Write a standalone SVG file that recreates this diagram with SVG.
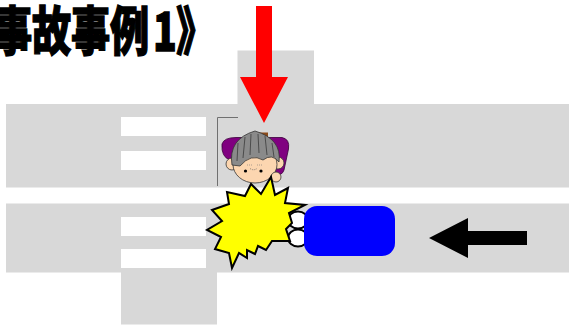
<svg xmlns="http://www.w3.org/2000/svg" width="569" height="329" viewBox="0 0 569 329">
<style>
.road{fill:#D8D8D8}
.stripe{fill:#FFFFFF}
.skin{fill:#FCD6B0;stroke:#333;stroke-width:0.8}
.title{font-family:"Noto Sans CJK JP","Noto Sans CJK SC",sans-serif;font-weight:900;font-size:53px;fill:#000;stroke:#000;stroke-width:1.3}
</style>
<rect width="569" height="329" fill="#FFFFFF"/>
<g id="roads">
<rect class="road" x="6" y="104" width="563" height="83.5"/>
<rect class="road" x="237.5" y="50.5" width="76.5" height="54"/>
<rect class="road" x="6" y="203.5" width="563" height="69"/>
<rect class="road" x="121" y="272" width="96" height="52.5"/>
</g>
<g id="crosswalks">
<rect class="stripe" x="121" y="117" width="85" height="19"/>
<rect class="stripe" x="121" y="151" width="85" height="19"/>
<rect class="stripe" x="121" y="217" width="85" height="19"/>
<rect class="stripe" x="121" y="249" width="85" height="19"/>
</g>
<path id="curb-line" d="M238,117.5 H217.5 V186" fill="none" stroke="#707070" stroke-width="1"/>
<g id="pedestrian">
<path d="M222,144 Q224,137.5 236,137.5 L282,137.5 Q290,139 288.5,149 L284,170 Q282,176 276,174 L271,160 L230,160 Q221,157 222,144 Z" fill="#800080" stroke="#3a003a" stroke-width="0.8"/>
<rect x="258" y="132.5" width="10" height="5" fill="#8B4A1A"/>
<circle class="skin" cx="232" cy="164" r="6"/>
<circle class="skin" cx="278" cy="163" r="6"/>
<ellipse class="skin" cx="255" cy="164.5" rx="22" ry="18.5"/>
<path d="M232,165 Q228,139 255,131 Q282,139 279,162 Q272,153 263,160 Q251,153 240,166 Z" fill="#8A8A8A" stroke="#333" stroke-width="0.8"/>
<g stroke="#444" stroke-width="0.9" fill="none">
<path d="M245,137 L243,158"/>
<path d="M251,134 L250,155"/>
<path d="M258,134 L259,153"/>
<path d="M265,136 L267,155"/>
<path d="M238,143 L237,161"/>
<path d="M272,143 L274,157"/>
</g>
<circle cx="245.5" cy="171" r="1.6" fill="#000"/>
<circle cx="261" cy="171" r="1.6" fill="#000"/>
<path d="M250,168.5 Q253.5,171 257,168.5" fill="none" stroke="#555" stroke-width="0.7" stroke-dasharray="1 1"/>
<path d="M247,165 H252 M257,165 H262" fill="none" stroke="#777" stroke-width="0.6" stroke-dasharray="1 1"/>
<circle class="skin" cx="276" cy="177" r="5"/>
</g>
<g id="vehicle">
<ellipse cx="298" cy="220" rx="10" ry="8.5" fill="#FFFFFF" stroke="#000" stroke-width="2"/>
<ellipse cx="298" cy="238" rx="10" ry="8.5" fill="#FFFFFF" stroke="#000" stroke-width="2"/>
<rect x="304" y="206" width="91" height="50" rx="13" fill="#0000FF"/>
</g>
<polygon id="impact" points="271,177 275,195 288,188 285,203 305,205 289,213 292,223 286,229 290,241 272,241 266,250 258,246 255,254 247,250 247,258 239,253 232,268 229,253 215,249 221,237 207,230 222,221 212,210 229,204 227,192 245,196 251,184 261,194" fill="#FFFF00" stroke="#000" stroke-width="2" stroke-linejoin="miter"/>
<g id="arrows">
<polygon points="256,6 272,6 272,77 288,77 264,123 240,77 256,77" fill="#FF0000"/>
<polygon points="429,238 468,218 468,231 527,231 527,245 468,245 468,258" fill="#000000"/>
</g>
<text class="title" transform="translate(0,51) scale(0.74,1)" x="-9.5 43.2 95.9 148.6 206.8 237.8">事故事例1》</text>
</svg>
